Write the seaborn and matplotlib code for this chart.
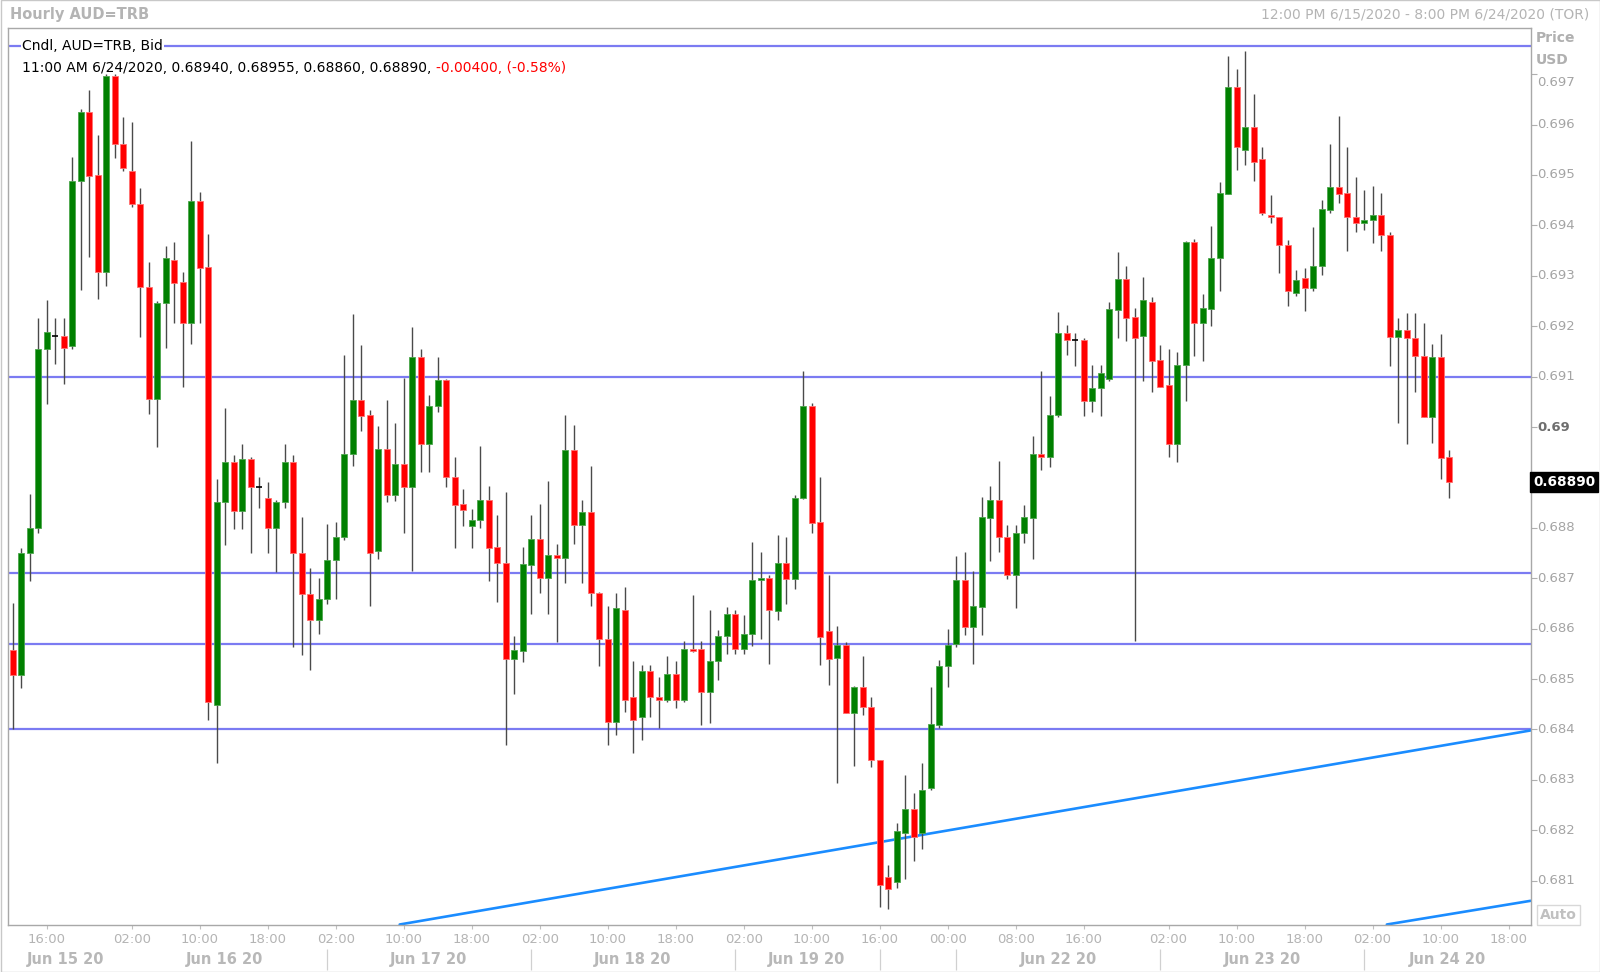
import numpy as np
import pandas as pd
import seaborn as sns
import matplotlib.pyplot as plt
import matplotlib.transforms as mtransforms
from matplotlib.patches import Rectangle

# Hourly AUD=TRB bid candles, 12:00 6/15/2020 .. 11:00 6/24/2020 (weekend hours skipped)
opens = [0.68558, 0.68508, 0.68750, 0.68800, 0.69154, 0.69181, 0.69181, 0.69161, 0.69488, 0.69624,
         0.69499, 0.69307, 0.69696, 0.69561, 0.69508, 0.69443, 0.69278, 0.69055, 0.69247, 0.69332,
         0.69287, 0.69206, 0.69448, 0.69318, 0.68448, 0.68851, 0.68931, 0.68834, 0.68937, 0.68880,
         0.68859, 0.68800, 0.68851, 0.68931, 0.68750, 0.68668, 0.68618, 0.68659, 0.68736, 0.68781,
         0.68946, 0.69053, 0.69023, 0.68754, 0.68956, 0.68865, 0.68926, 0.68881, 0.69138, 0.68967,
         0.69041, 0.69093, 0.68901, 0.68847, 0.68804, 0.68816, 0.68856, 0.68762, 0.68731, 0.68540,
         0.68556, 0.68727, 0.68777, 0.68700, 0.68747, 0.68740, 0.68954, 0.68806, 0.68832, 0.68670,
         0.68580, 0.68414, 0.68637, 0.68465, 0.68424, 0.68515, 0.68465, 0.68458, 0.68510, 0.68458,
         0.68560, 0.68560, 0.68474, 0.68535, 0.68585, 0.68630, 0.68560, 0.68590, 0.68697, 0.68700,
         0.68634, 0.68730, 0.68699, 0.68860, 0.69042, 0.68812, 0.68596, 0.68542, 0.68567, 0.68433,
         0.68485, 0.68444, 0.68340, 0.68108, 0.68098, 0.68194, 0.68243, 0.68194, 0.68283, 0.68408,
         0.68525, 0.68570, 0.68697, 0.68604, 0.68643, 0.68820, 0.68856, 0.68781, 0.68706, 0.68790,
         0.68820, 0.68946, 0.68940, 0.69023, 0.69187, 0.69172, 0.69172, 0.69052, 0.69077, 0.69095,
         0.69232, 0.69293, 0.69218, 0.69181, 0.69248, 0.69132, 0.69083, 0.68967, 0.69123, 0.69368,
         0.69206, 0.69235, 0.69335, 0.69463, 0.69675, 0.69550, 0.69596, 0.69531, 0.69420, 0.69416,
         0.69361, 0.69265, 0.69295, 0.69275, 0.69320, 0.69431, 0.69477, 0.69465, 0.69416, 0.69404,
         0.69410, 0.69420, 0.69381, 0.69179, 0.69192, 0.69176, 0.69141, 0.69020, 0.69138, 0.68940]
highs = [0.68650, 0.68760, 0.68867, 0.69217, 0.69252, 0.69217, 0.69217, 0.69535, 0.69631, 0.69669,
         0.69579, 0.69700, 0.69700, 0.69615, 0.69606, 0.69474, 0.69328, 0.69250, 0.69359, 0.69367,
         0.69308, 0.69568, 0.69467, 0.69382, 0.68896, 0.69037, 0.68945, 0.68966, 0.68940, 0.68901,
         0.68890, 0.68855, 0.68966, 0.68945, 0.68821, 0.68720, 0.68700, 0.68807, 0.68812, 0.69143,
         0.69224, 0.69163, 0.69033, 0.69002, 0.69053, 0.69008, 0.69097, 0.69198, 0.69155, 0.69063,
         0.69138, 0.69095, 0.68940, 0.68877, 0.68837, 0.68963, 0.68883, 0.68826, 0.68871, 0.68585,
         0.68762, 0.68826, 0.68848, 0.68893, 0.68768, 0.69024, 0.69003, 0.68856, 0.68923, 0.68672,
         0.68645, 0.68670, 0.68682, 0.68536, 0.68527, 0.68527, 0.68505, 0.68545, 0.68536, 0.68576,
         0.68667, 0.68576, 0.68637, 0.68597, 0.68642, 0.68637, 0.68627, 0.68772, 0.68752, 0.68707,
         0.68786, 0.68782, 0.68865, 0.69111, 0.69047, 0.68901, 0.68707, 0.68606, 0.68573, 0.68487,
         0.68545, 0.68464, 0.68340, 0.68132, 0.68214, 0.68309, 0.68273, 0.68334, 0.68485, 0.68537,
         0.68600, 0.68745, 0.68752, 0.68714, 0.68862, 0.68883, 0.68932, 0.68806, 0.68806, 0.68845,
         0.68982, 0.69112, 0.69062, 0.69228, 0.69202, 0.69187, 0.69177, 0.69124, 0.69124, 0.69248,
         0.69348, 0.69319, 0.69237, 0.69297, 0.69257, 0.69163, 0.69154, 0.69148, 0.69370, 0.69373,
         0.69264, 0.69398, 0.69487, 0.69736, 0.69711, 0.69746, 0.69660, 0.69555, 0.69461, 0.69416,
         0.69371, 0.69312, 0.69316, 0.69397, 0.69451, 0.69562, 0.69617, 0.69555, 0.69496, 0.69471,
         0.69478, 0.69465, 0.69386, 0.69216, 0.69227, 0.69227, 0.69207, 0.69164, 0.69185, 0.68955]
lows = [0.68400, 0.68483, 0.68694, 0.68790, 0.69046, 0.69125, 0.69086, 0.69155, 0.69271, 0.69337,
        0.69253, 0.69280, 0.69534, 0.69507, 0.69436, 0.69179, 0.69025, 0.68960, 0.69157, 0.69206,
        0.69079, 0.69165, 0.69206, 0.68419, 0.68333, 0.68765, 0.68798, 0.68798, 0.68750, 0.68839,
        0.68750, 0.68712, 0.68840, 0.68564, 0.68548, 0.68517, 0.68589, 0.68649, 0.68659, 0.68775,
        0.68922, 0.68992, 0.68645, 0.68739, 0.68851, 0.68854, 0.68790, 0.68714, 0.68910, 0.68910,
        0.69030, 0.68881, 0.68759, 0.68804, 0.68759, 0.68800, 0.68695, 0.68653, 0.68370, 0.68470,
        0.68534, 0.68630, 0.68670, 0.68630, 0.68574, 0.68690, 0.68767, 0.68690, 0.68645, 0.68525,
        0.68370, 0.68389, 0.68434, 0.68354, 0.68379, 0.68424, 0.68403, 0.68454, 0.68443, 0.68455,
        0.68554, 0.68409, 0.68413, 0.68498, 0.68549, 0.68549, 0.68549, 0.68565, 0.68580, 0.68529,
        0.68618, 0.68649, 0.68679, 0.68858, 0.68789, 0.68528, 0.68488, 0.68293, 0.68433, 0.68327,
        0.68428, 0.68325, 0.68047, 0.68044, 0.68086, 0.68103, 0.68138, 0.68163, 0.68280, 0.68403,
        0.68485, 0.68564, 0.68588, 0.68529, 0.68588, 0.68735, 0.68753, 0.68698, 0.68641, 0.68769,
        0.68739, 0.68915, 0.68921, 0.69020, 0.69142, 0.69121, 0.69022, 0.69030, 0.69022, 0.69091,
        0.69177, 0.69171, 0.68575, 0.69091, 0.69070, 0.69080, 0.68940, 0.68931, 0.69052, 0.69141,
        0.69131, 0.69201, 0.69270, 0.69462, 0.69510, 0.69520, 0.69489, 0.69420, 0.69405, 0.69306,
        0.69240, 0.69260, 0.69231, 0.69270, 0.69301, 0.69425, 0.69445, 0.69349, 0.69386, 0.69391,
        0.69365, 0.69349, 0.69121, 0.69008, 0.68966, 0.69070, 0.69020, 0.68969, 0.68896, 0.68860]
closes = [0.68508, 0.68750, 0.68800, 0.69154, 0.69188, 0.69181, 0.69157, 0.69488, 0.69624, 0.69497,
          0.69307, 0.69696, 0.69561, 0.69513, 0.69443, 0.69278, 0.69055, 0.69247, 0.69335, 0.69286,
          0.69206, 0.69448, 0.69316, 0.68455, 0.68851, 0.68931, 0.68834, 0.68937, 0.68880, 0.68880,
          0.68800, 0.68851, 0.68931, 0.68750, 0.68668, 0.68618, 0.68658, 0.68736, 0.68781, 0.68946,
          0.69053, 0.69022, 0.68750, 0.68956, 0.68865, 0.68926, 0.68881, 0.69138, 0.68967, 0.69041,
          0.69093, 0.68901, 0.68845, 0.68835, 0.68815, 0.68856, 0.68760, 0.68730, 0.68540, 0.68557,
          0.68728, 0.68777, 0.68700, 0.68747, 0.68740, 0.68954, 0.68806, 0.68832, 0.68670, 0.68580,
          0.68414, 0.68641, 0.68458, 0.68419, 0.68515, 0.68464, 0.68458, 0.68510, 0.68458, 0.68560,
          0.68556, 0.68474, 0.68535, 0.68585, 0.68630, 0.68560, 0.68590, 0.68697, 0.68700, 0.68636,
          0.68730, 0.68699, 0.68860, 0.69042, 0.68810, 0.68583, 0.68540, 0.68567, 0.68433, 0.68485,
          0.68444, 0.68340, 0.68092, 0.68083, 0.68199, 0.68243, 0.68187, 0.68279, 0.68410, 0.68525,
          0.68567, 0.68697, 0.68604, 0.68645, 0.68822, 0.68856, 0.68781, 0.68706, 0.68790, 0.68822,
          0.68946, 0.68940, 0.69023, 0.69187, 0.69172, 0.69172, 0.69052, 0.69077, 0.69108, 0.69234,
          0.69293, 0.69217, 0.69177, 0.69252, 0.69131, 0.69080, 0.68967, 0.69123, 0.69368, 0.69206,
          0.69237, 0.69336, 0.69465, 0.69675, 0.69555, 0.69596, 0.69525, 0.69424, 0.69416, 0.69361,
          0.69270, 0.69292, 0.69275, 0.69320, 0.69432, 0.69477, 0.69462, 0.69416, 0.69404, 0.69410,
          0.69420, 0.69380, 0.69179, 0.69192, 0.69176, 0.69140, 0.69020, 0.69138, 0.68939, 0.68890]

# time axis (candle slots)
hour_ticks = [4, 14, 22, 30, 38, 46, 54, 62, 70, 78, 86, 94, 102, 110, 118, 126, 136, 144, 152, 160, 168, 176]
hour_labels = ['16:00', '02:00', '10:00', '18:00', '02:00', '10:00', '18:00', '02:00', '10:00', '18:00', '02:00',
               '10:00', '16:00', '00:00', '08:00', '16:00', '02:00', '10:00', '18:00', '02:00', '10:00', '18:00']
day_labels = ['Jun 15 20', 'Jun 16 20', 'Jun 17 20', 'Jun 18 20', 'Jun 19 20', 'Jun 22 20', 'Jun 23 20', 'Jun 24 20']
day_centers = [6.2, 24.9, 48.9, 72.9, 93.4, 123.0, 147.0, 168.8]
day_breaks = [37, 61, 85, 102, 111, 135, 159]

# drawn support/resistance levels and the rising channel
levels = [0.69756, 0.69100, 0.68710, 0.68570, 0.68400]
trend_a = [(46.2, 0.68015), (178.6, 0.68398)]
trend_b = [(162.4, 0.68015), (178.6, 0.68060)]
price_ticks = [0.681, 0.682, 0.683, 0.684, 0.685, 0.686, 0.687, 0.688, 0.689, 0.690,
               0.691, 0.692, 0.693, 0.694, 0.695, 0.696, 0.697]
change_text = '-0.00400, (-0.58%)'

df = pd.DataFrame({'open': opens, 'high': highs, 'low': lows, 'close': closes})
df['slot'] = np.arange(len(df))
df['up'] = df['close'] >= df['open']

sns.set_style('white')
plt.rcParams['font.family'] = ['DejaVu Sans']

W, H = 1600, 972
fig = plt.figure(figsize=(16, 9.72), dpi=100)
ax = fig.add_axes([8.2 / W, 1 - 924.5 / H, (1530.6 - 8.2) / W, (924.5 - 28.3) / H])

# levels and trend lines
for lv in levels:
    ax.axhline(lv, color='#7b7bf2', lw=1.6, zorder=1)
ax.axline(trend_a[0], trend_a[1], color='#1a8cff', lw=1.9, zorder=1)
ax.axline(trend_b[0], trend_b[1], color='#1a8cff', lw=1.9, zorder=1)

# candles
ax.vlines(df['slot'], df['low'], df['high'], color='#4a4a4a', lw=1.0, zorder=2)
body = (df['close'] - df['open']).abs()
doji = body < 0.00002
solid = df[~doji]
ax.bar(solid['slot'], body[~doji], bottom=solid[['open', 'close']].min(axis=1), width=0.7,
       color=np.where(solid['up'], '#008000', '#ff0000'),
       edgecolor=np.where(solid['up'], '#4ca64c', '#ff7070'), linewidth=0.6, zorder=3)
ax.hlines(df.loc[doji, 'close'], df.loc[doji, 'slot'] - 0.35, df.loc[doji, 'slot'] + 0.35,
          color='#000000', lw=1.2, zorder=3)

ax.set_xlim(-0.56, 178.6)
ax.set_ylim(0.68013, 0.69791)

for s in ax.spines.values():
    s.set_color('#a8a8a8')
    s.set_linewidth(1.0)

# x axis
ax.set_xticks(hour_ticks)
ax.set_xticklabels(hour_labels, fontsize=9.5, color='#b4b4b4')
ax.tick_params(axis='x', length=3, width=0.8, color='#c0c0c0', pad=3, direction='out', bottom=True)
xb = mtransforms.blended_transform_factory(ax.transData, ax.transAxes)
for c, lbl in zip(day_centers, day_labels):
    ax.text(c, -0.0392, lbl, transform=xb, ha='center', va='center', fontsize=10.5,
            fontweight='bold', color='#b8b8b8', clip_on=False)
ax.vlines(day_breaks, -0.0508, -0.0273, transform=xb, color='#d0d0d0', lw=0.9, clip_on=False)

# price axis on the right
ax.yaxis.tick_right()
ax.set_yticks(price_ticks)
ax.set_yticklabels([])
ax.tick_params(axis='y', length=4, width=0.8, color='#b0b0b0', direction='out', right=True, left=False)
yb = mtransforms.blended_transform_factory(ax.transAxes, ax.transData)
for p in price_ticks:
    if abs(p - 0.689) < 1e-6:
        continue  # hidden under the last-price box
    if abs(p - 0.690) < 1e-6:
        ax.annotate('0.69', xy=(1, p), xycoords=yb, xytext=(5, 0), textcoords='offset points',
                    va='center', ha='left', fontsize=9.5, fontweight='bold', color='#6e6e6e')
    elif abs(p - 0.697) < 1e-6:
        ax.annotate('0.697', xy=(1, p), xycoords=yb, xytext=(5, -6), textcoords='offset points',
                    va='center', ha='left', fontsize=9.5, color='#a4a4a4')
    else:
        ax.annotate(f'{p:.3f}', xy=(1, p), xycoords=yb, xytext=(5, 0), textcoords='offset points',
                    va='center', ha='left', fontsize=9.5, color='#a4a4a4')

ax.text(1.0015, closes[-1], f'{closes[-1]:.5f}', transform=yb, ha='left', va='center',
        fontsize=9.8, fontweight='bold', color='white', clip_on=False,
        bbox=dict(boxstyle='square,pad=0.22', facecolor='black', edgecolor='black'))

fig.text(1536 / W, 1 - 38 / H, 'Price', fontsize=10, fontweight='bold', color='#b0b0b0', va='center')
fig.text(1536 / W, 1 - 60 / H, 'USD', fontsize=10, fontweight='bold', color='#b0b0b0', va='center')
fig.text(1540 / W, 1 - 915 / H, 'Auto', fontsize=10, fontweight='bold', color='#c0c0c0', va='center',
         bbox=dict(boxstyle='square,pad=0.2', facecolor='white', edgecolor='#d8d8d8'))

# header
fig.text(10 / W, 1 - 15 / H, 'Hourly AUD=TRB', fontsize=10.5, fontweight='bold', color='#b4b4b4', va='center')
fig.text(1589 / W, 1 - 15 / H, '12:00 PM 6/15/2020 - 8:00 PM 6/24/2020 (TOR)', fontsize=10,
         color='#b4b4b4', va='center', ha='right')

# study legend inside the chart
fig.text(22.5 / W, 1 - 46 / H, 'Cndl, AUD=TRB, Bid', fontsize=10, color='black', va='center',
         bbox=dict(boxstyle='square,pad=0.08', facecolor='white', edgecolor='none'))
info = f'11:00 AM 6/24/2020, {opens[-1]:.5f}, {highs[-1]:.5f}, {lows[-1]:.5f}, {closes[-1]:.5f}, '
t2 = fig.text(22.5 / W, 1 - 67.5 / H, info, fontsize=10, color='black', va='center')
ax.annotate(change_text, xy=(1, 0.5), xycoords=t2, va='center', ha='left',
            fontsize=10, color='#ff0000', annotation_clip=False)

# outer frame
fig.patches.append(Rectangle((0.5 / W, 0.5 / H), 1 - 1 / W, 1 - 1 / H, transform=fig.transFigure,
                             fill=False, edgecolor='#c8c8c8', lw=1.0))

fig.savefig('out.png', dpi=100, facecolor='white')
